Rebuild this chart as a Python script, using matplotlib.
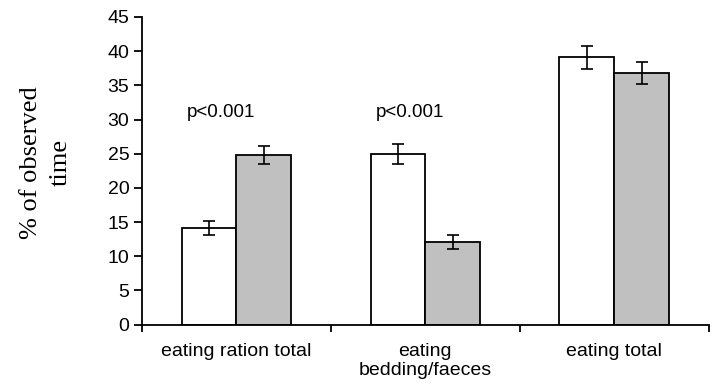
import numpy as np
import matplotlib
matplotlib.use("Agg")
import matplotlib.pyplot as plt

categories = ["eating ration total", "eating\nbedding/faeces", "eating total"]
white_vals = [14.1, 25.0, 39.1]
white_err = [1.0, 1.45, 1.65]
gray_vals = [24.8, 12.1, 36.8]
gray_err = [1.3, 1.0, 1.6]
p_labels = ["p<0.001", "p<0.001", ""]

plt.rcParams["font.family"] = ["Liberation Sans", "DejaVu Sans"]

fig = plt.figure(figsize=(7.13, 3.91), dpi=100)
ax = fig.add_axes([0.199, 0.1696, 0.795, 0.787])

x = np.arange(len(categories))
w = 0.29
err_kw = dict(ecolor="black", elinewidth=1.2, capsize=4.3, capthick=1.2)
ax.bar(x - w / 2, white_vals, w, yerr=white_err, color="white",
       edgecolor="black", linewidth=1.3, error_kw=err_kw)
ax.bar(x + w / 2, gray_vals, w, yerr=gray_err, color="#c0c0c0",
       edgecolor="black", linewidth=1.3, error_kw=err_kw)

for xi, lab in zip(x, p_labels):
    if lab:
        ax.text(xi - 0.08, 31, lab, ha="center", va="center", fontsize=13.5)

ax.set_xlim(-0.5, 2.5)
ax.set_ylim(0, 45)
ax.set_yticks(np.arange(0, 46, 5))
ax.set_xticks([-0.5, 0.5, 1.5, 2.5])
ax.set_xticklabels([])
ax.set_xticks(x, minor=True)
ax.set_xticklabels(categories, minor=True, fontsize=14)
ax.tick_params(axis="x", which="minor", length=0, pad=13)
ax.tick_params(axis="x", which="major", length=5, width=1.3, direction="out")
ax.tick_params(axis="y", length=6, width=1.3, direction="out", labelsize=14, pad=3)

for s in ["top", "right"]:
    ax.spines[s].set_visible(False)
for s in ["left", "bottom"]:
    ax.spines[s].set_linewidth(1.3)

fig.text(0.064, 0.585, "% of observed\ntime", rotation=90, ha="center",
         va="center", fontsize=19, family="Liberation Serif",
         multialignment="center", linespacing=1.45)

fig.savefig("out.png", dpi=100)
